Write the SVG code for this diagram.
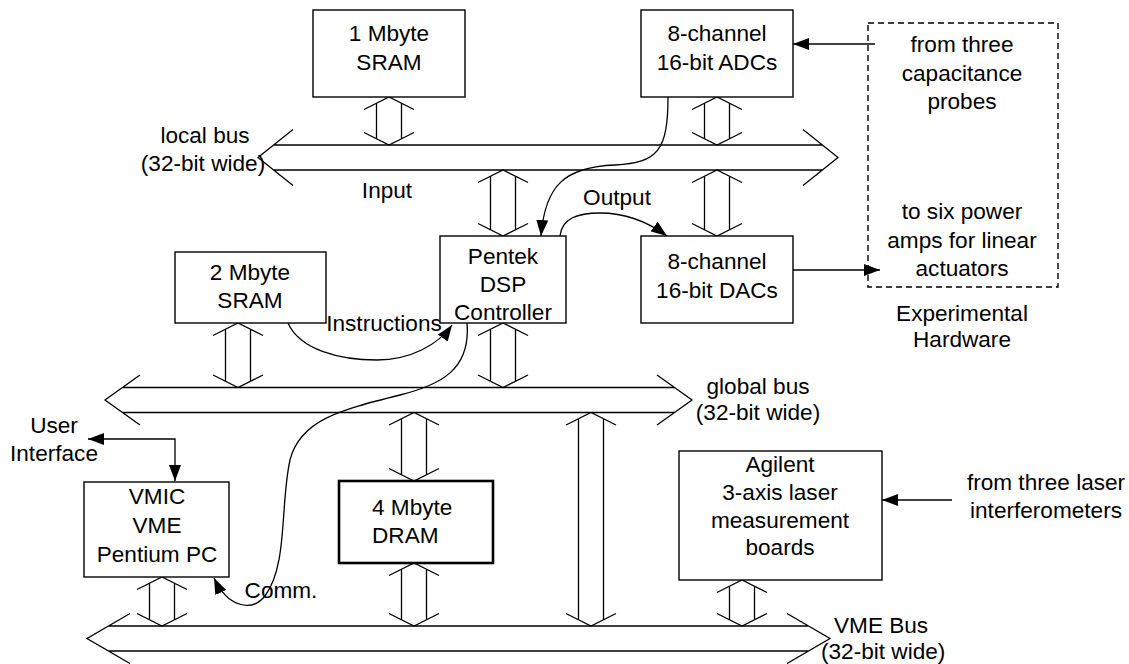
<svg xmlns="http://www.w3.org/2000/svg" width="1129" height="664" viewBox="0 0 1129 664">
<defs>
<style>
.box{fill:#fff;stroke:#000;stroke-width:1.4}
.thick{stroke-width:2.6}
.dash{fill:none;stroke:#000;stroke-width:1.4;stroke-dasharray:6 4}
.bus{fill:none;stroke:#000;stroke-width:1.3}
.ln{fill:none;stroke:#000;stroke-width:1.3}
.arr{marker-end:url(#ah)}
text{font-family:"Liberation Sans",Arial,sans-serif;font-size:22.6px;fill:#000;text-anchor:middle}
.st{text-anchor:start}
</style>
<marker id="ah" viewBox="0 0 16 12" refX="16" refY="6" markerWidth="16" markerHeight="12" markerUnits="userSpaceOnUse" orient="auto-start-reverse"><path d="M0,0 L16,6 L0,12 z" fill="#000"/></marker>
</defs>
<rect width="1129" height="664" fill="#fff"/>

<g id="connectors">
<path id="local-bus" class="bus" d="M293,129.5 L258,157.5 L293,185.5 M273.6,145 H822.4 M273.6,170 H822.4 M803,129.5 L838,157.5 L803,185.5"/>
<path id="global-bus" class="bus" d="M140,375 L105,400 L140,425 M122.5,387.5 H674.5 M122.5,412.5 H674.5 M657,375 L692,400 L657,425"/>
<path id="vme-bus" class="bus" d="M130,613.5 L87,638.5 L130,663.5 M108.5,626 H808.5 M108.5,651 H808.5 M787,613.5 L830,638.5 L787,663.5"/>
<path class="bus" d="M364,109.5 L389,97 L414,109.5 M376.5,103.25 V138.75 M401.5,103.25 V138.75 M364,132.5 L389,145 L414,132.5"/>
<path class="bus" d="M692,109.5 L717,97 L742,109.5 M704.5,103.25 V138.75 M729.5,103.25 V138.75 M692,132.5 L717,145 L742,132.5"/>
<path class="bus" d="M478,182.5 L503,170 L528,182.5 M490.5,176.25 V229.75 M515.5,176.25 V229.75 M478,223.5 L503,236 L528,223.5"/>
<path class="bus" d="M692,182.5 L717,170 L742,182.5 M704.5,176.25 V229.75 M729.5,176.25 V229.75 M692,223.5 L717,236 L742,223.5"/>
<path class="bus" d="M213,335.5 L238,323 L263,335.5 M225.5,329.25 V381.25 M250.5,329.25 V381.25 M213,375 L238,387.5 L263,375"/>
<path class="bus" d="M478,335.5 L503,323 L528,335.5 M490.5,329.25 V381.25 M515.5,329.25 V381.25 M478,375 L503,387.5 L528,375"/>
<path class="bus" d="M389,425 L414,412.5 L439,425 M401.5,418.75 V474.75 M426.5,418.75 V474.75 M389,468.5 L414,481 L439,468.5"/>
<path class="bus" d="M389,575.5 L414,563 L439,575.5 M401.5,569.25 V619.75 M426.5,569.25 V619.75 M389,613.5 L414,626 L439,613.5"/>
<path class="bus" d="M566,425 L591,412.5 L616,425 M578.5,418.75 V619.75 M603.5,418.75 V619.75 M566,613.5 L591,626 L616,613.5"/>
<path class="bus" d="M137,589.5 L162,577 L187,589.5 M149.5,583.25 V619.75 M174.5,583.25 V619.75 M137,613.5 L162,626 L187,613.5"/>
<path class="bus" d="M717,592.5 L742,580 L767,592.5 M729.5,586.25 V619.75 M754.5,586.25 V619.75 M717,613.5 L742,626 L767,613.5"/>
<path class="ln arr" d="M875,44 H793"/>
<path class="ln arr" d="M793,270 H880"/>
<path class="ln arr" d="M952,500 H882"/>
<path class="ln" d="M175,481 V439 H88" marker-start="url(#ah)" marker-end="url(#ah)"/>
<path class="ln arr" d="M668,97 C668,150 658,163 615,165 C565,167 545,185 541,236"/>
<path class="ln arr" d="M560,236 C562,218 578,213 600,213 C625,213 648,222 667,236"/>
<path class="ln arr" d="M288,323 C300,350 340,360 377,360 C410,360 438,345 452,325"/>
<path class="ln arr" d="M467,323 C471,370 440,385 400,395 C340,410 300,420 290,460 C280,505 288,565 265,596 C252,612 228,608 214,578"/>
</g>

<g id="sram1"><rect class="box" x="313" y="10" width="152" height="87"/><text x="389" y="41">1 Mbyte</text><text x="389" y="70">SRAM</text></g>
<g id="adc"><rect class="box" x="641" y="10" width="152" height="87"/><text x="717" y="41">8-channel</text><text x="717" y="70">16-bit ADCs</text></g>
<g id="experimental"><rect class="dash" x="868" y="23" width="190" height="264"/>
<text x="962" y="52">from three</text><text x="962" y="81">capacitance</text><text x="962" y="109">probes</text>
<text x="962" y="219">to six power</text><text x="962" y="248">amps for linear</text><text x="962" y="276">actuators</text>
<text x="962" y="321">Experimental</text><text x="962" y="347">Hardware</text></g>
<g id="localbus-label"><text x="205" y="143">local bus</text><text x="203" y="171">(32-bit wide)</text></g>
<g id="labels"><text x="387" y="198">Input</text><text x="617" y="205">Output</text><text x="384" y="331">Instructions</text><text x="281" y="598">Comm.</text></g>
<g id="pentek"><rect class="box" x="440" y="236" width="126" height="87"/><text x="503" y="264">Pentek</text><text x="503" y="292">DSP</text><text x="503" y="320">Controller</text></g>
<g id="sram2"><rect class="box" x="175" y="252" width="151" height="71"/><text x="250" y="280">2 Mbyte</text><text x="250" y="308">SRAM</text></g>
<g id="dac"><rect class="box" x="641" y="236" width="152" height="87"/><text x="717" y="269">8-channel</text><text x="717" y="298">16-bit DACs</text></g>
<g id="globalbus-label"><text x="758" y="394">global bus</text><text x="758" y="420">(32-bit wide)</text></g>
<g id="user-interface"><text x="54" y="433">User</text><text x="54" y="461">Interface</text></g>
<g id="vmic"><rect class="box" x="84" y="482" width="145" height="95"/><text x="157" y="504">VMIC</text><text x="157" y="533">VME</text><text x="157" y="562">Pentium PC</text></g>
<g id="dram"><rect class="box thick" x="339" y="481" width="154" height="82"/><text class="st" x="372" y="515">4 Mbyte</text><text class="st" x="372" y="543">DRAM</text></g>
<g id="agilent"><rect class="box" x="679" y="451" width="203" height="129"/><text x="780" y="472">Agilent</text><text x="780" y="500">3-axis laser</text><text x="780" y="528">measurement</text><text x="780" y="555">boards</text></g>
<g id="laser-label"><text x="1046" y="490">from three laser</text><text x="1046" y="518">interferometers</text></g>
<g id="vme-label"><text class="st" x="834" y="633">VME Bus</text><text class="st" x="821" y="659">(32-bit wide)</text></g>
</svg>
